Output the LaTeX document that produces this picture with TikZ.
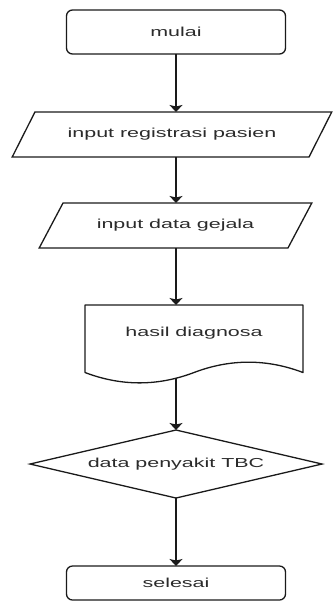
\documentclass[tikz,border=0pt]{standalone}
\usepackage{fontspec}
\setmainfont{Liberation Sans}[FakeStretch=1.65]
\usepackage{tikz}
\usetikzlibrary{positioning, arrows.meta, shapes.geometric}
\definecolor{FCline}{HTML}{1A1A1A}
\definecolor{FCtext}{HTML}{2B2B2B}

\begin{document}
\begin{tikzpicture}[
  font=\fontsize{13pt}{15pt}\selectfont,
  text=FCtext,
  terminal/.style={draw=FCline, line width=1.3pt, rounded corners=6pt,
                   inner sep=0pt, outer sep=0pt, minimum width=219pt},
  io/.style={draw=FCline, line width=1.3pt, trapezium, trapezium stretches=true,
             inner sep=0pt, outer sep=0pt, minimum height=45pt},
  decision/.style={draw=FCline, line width=1.3pt, diamond, aspect=4.3,
                   inner sep=0pt, outer sep=0pt,
                   minimum width=292pt, minimum height=68pt},
  docbody/.style={inner sep=0pt, outer sep=0pt,
                  minimum width=218pt, minimum height=57pt},
  outline/.style={draw=FCline, line width=1.3pt, line join=round},
  arr/.style={-{Stealth[width=13pt, length=7pt, inset=1.5pt]},
              line width=1.3pt, FCline},
]
\useasboundingbox (0,0) rectangle (332pt,-601pt);

\node[terminal, minimum height=44pt] (mulai) at (176pt,-32pt) {mulai};
\node[io, below=58pt of mulai, xshift=-4pt, minimum width=320pt,
      trapezium left angle=35, trapezium right angle=145] (regis)
  {input registrasi pasien};
\node[io, below=46pt of regis, xshift=3.5pt, minimum width=273pt,
      trapezium left angle=36, trapezium right angle=144] (gejala)
  {input data gejala};
\node[docbody, below=57pt of gejala, xshift=18.5pt] (hasil) {hasil diagnosa};
\node[decision, below=68pt of hasil, xshift=-18pt] (dia) {data penyakit TBC};
\node[terminal, below=68pt of dia, minimum height=34pt] (selesai) {selesai};

% document outline with wavy bottom
\begin{scope}[shift={(hasil.north west)}, x=1pt, y=-1pt]
  \draw[outline] (0,67.5) -- (0,0) -- (218,0) -- (218,67.5)
    .. controls (181.7,53.7) and (145.3,53.7) .. (109,67.5)
    .. controls (72.7,81.3) and (36.3,81.3) .. cycle;
  \coordinate (hasilout) at (91,73.2);
\end{scope}

\draw[arr] (mulai) -- (regis.north -| mulai);
\draw[arr] (regis.south -| mulai) -- (gejala.north -| mulai);
\draw[arr] (gejala.south -| mulai) -- (hasil.north -| mulai);
\draw[arr] (hasilout) -- (hasilout |- dia.north);
\draw[arr] (dia) -- (selesai);
\end{tikzpicture}
\end{document}
